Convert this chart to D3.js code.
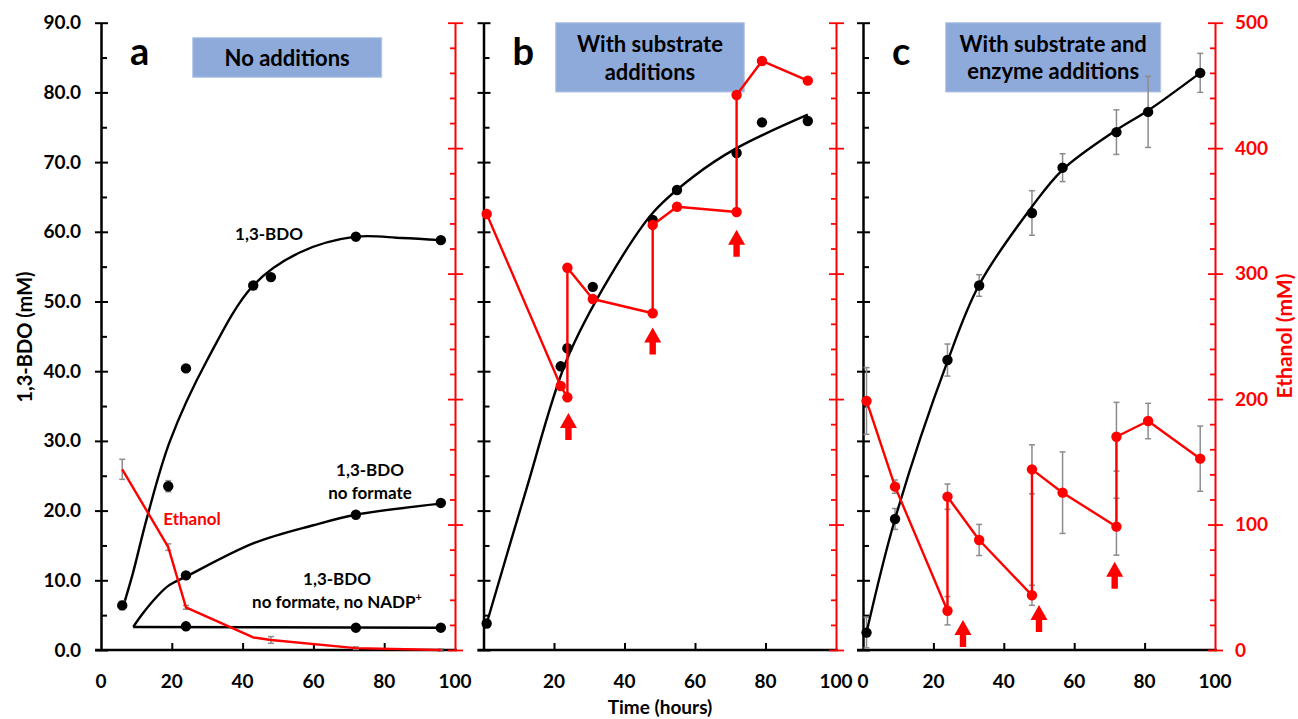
<!DOCTYPE html>
<html>
<head>
    <title>1,3-BDO and ethanol</title>
    <style type="text/css">
        body { margin: 0; background: #fff; }
        svg text { font-family: Lato, "Open Sans", sans-serif; font-weight: bold; }
    </style>
</head>
<body>
<script src="https://d3js.org/d3.v7.min.js" type="text/javascript"></script>
<script type="text/javascript">

    // ---- panel a : no additions ----
    var bdoA_t = [6, 19, 24, 43, 48, 72, 96];
    var bdoA_v = [6.4, 23.5, 40.4, 52.3, 53.5, 59.3, 58.8];
    var bdoA_err = [0.6, 0.8, 0, 0, 0, 0, 0];
    var bdoA_fit_t = [6.3, 9, 13, 19.5, 30, 43, 56, 72, 85, 96];
    var bdoA_fit_v = [6.3, 11, 19, 30, 41.6, 52.3, 57, 59.3, 59.1, 58.8];
    var noFormate_t = [24, 72, 96];
    var noFormate_v = [10.7, 19.4, 21.1];
    var noFormate_fit_t = [9.1, 11.9, 15.7, 19, 24.3, 43, 60, 72, 96];
    var noFormate_fit_v = [3.3, 5.3, 7.6, 9.2, 10.6, 15.3, 17.9, 19.4, 21];
    var noNadp_t = [24, 72, 96];
    var noNadp_v = [3.4, 3.2, 3.2];
    var noNadp_fit_t = [9.1, 96];
    var noNadp_fit_v = [3.3, 3.2];
    var ethA_t = [6, 19, 24, 43, 48, 72, 96];
    var ethA_v = [144, 82, 34, 10, 8, 1.5, 0];
    var ethA_err = [8, 2.6, 1.5, 0, 2.7, 1, 1];

    // ---- panel b : substrate additions ----
    var bdoB_t = [0.9, 21.9, 23.8, 31, 48, 54.9, 71.8, 79, 92];
    var bdoB_v = [3.8, 40.7, 43.3, 52.1, 61.7, 66.0, 71.3, 75.7, 75.9];
    var bdoB_fit_t = [0.9, 12, 23.6, 35.9, 48, 59.5, 71.8, 92];
    var bdoB_fit_v = [3.8, 22.8, 41.6, 53.6, 62.7, 67.9, 72.0, 76.8];
    var ethB_t = [0.9, 21.9, 23.8, 23.8, 31, 48, 48, 54.9, 71.8, 71.8, 79, 92];
    var ethB_v = [347.5, 210.4, 201.4, 304.7, 279.8, 268.4, 338.8, 353.3, 349.1, 442.4, 469.5, 453.8];
    var arrowB_t = [24.1, 48, 71.8];
    var arrowB_v = [189, 257, 335];

    // ---- panel c : substrate + enzyme additions ----
    var bdoC_t = [1, 9.1, 24, 33, 48, 56.7, 72, 81, 95.8];
    var bdoC_v = [2.5, 18.8, 41.6, 52.3, 62.7, 69.2, 74.3, 77.2, 82.8];
    var bdoC_err = [2.2, 1.5, 2.3, 1.55, 3.2, 2.0, 3.2, 5.1, 2.8];
    var bdoC_fit_t = [1, 9.1, 24, 33, 48, 56.7, 72, 81, 95.8];
    var bdoC_fit_v = [2.5, 18.8, 41.4, 52.4, 63.6, 68.9, 74.6, 77.4, 82.8];
    var ethC_t = [1, 9.1, 24, 24, 33, 48, 48, 56.7, 72, 72, 81, 95.8];
    var ethC_v = [198.5, 130.2, 31.3, 122.2, 87.7, 43.6, 144, 125.4, 98.3, 170, 182.5, 152.5];
    var ethC_err = [26.6, 5.3, 11.3, 10.1, 12.4, 8, 19.5, 32.5, 22.7, 27.4, 14.1, 26];
    var arrowC_t = [28.4, 50, 71.5];
    var arrowC_v = [23.9, 35.9, 70.4];

    var bdoTicks = d3.range(0, 91, 10);
    var bdoMinor = d3.range(5, 90, 10);
    var ethTicks = [0, 100, 200, 300, 400, 500];
    var ethMinor = d3.range(20, 500, 20).filter(function (d) { return d % 100 !== 0; });

    var RED = '#ff0000', GREY = '#8c8c8c', BOX = '#8eaadb';

    var svg = d3.select('body').append('svg')
        .attr('width', 1298)
        .attr('height', 719);

    var yTop = 22.7, yBot = 650;
    var yB = d3.scaleLinear().domain([0, 90]).range([yBot, yTop]);
    var yE = d3.scaleLinear().domain([0, 500]).range([yBot, yTop]);

    function zip(t, v) { return t.map(function (d, i) { return [d, v[i]]; }); }

    var panels = [
        { x0: 101, x1: 455, letter: 'a', xlabels: [0, 20, 40, 60, 80, 100],
          box: [192.7, 37.7, 189, 39.6], title: ['No additions'], titleY: [65.5] },
        { x0: 483.5, x1: 836, letter: 'b', xlabels: [20, 40, 60, 80, 100],
          box: [555.7, 22.7, 188.6, 69.3], title: ['With substrate', 'additions'], titleY: [51.5, 79.5] },
        { x0: 863, x1: 1215, letter: 'c', xlabels: [0, 20, 40, 60, 80, 100],
          box: [945.7, 22.7, 215, 69.3], title: ['With substrate and', 'enzyme additions'], titleY: [51.5, 79] }
    ];

    panels.forEach(function (p, pi) {
        var x = d3.scaleLinear().domain([0, 100]).range([p.x0, p.x1]);
        p.x = x;
        var g = svg.append('g');

        // x axis
        var xa = g.append('g').attr('transform', 'translate(0,' + yBot + ')')
            .call(d3.axisBottom(x).tickValues([20, 40, 60, 80]).tickSizeInner(-7).tickSizeOuter(0).tickFormat(''));
        xa.select('.domain').attr('d', 'M' + (p.x0 - 6) + ',0H' + (p.x1 + 2));
        xa.selectAll('line').attr('stroke-width', 2);
        xa.select('.domain').attr('stroke-width', 2.5);
        g.append('g').selectAll('text').data(p.xlabels).enter().append('text')
            .attr('x', function (d) { return x(d); })
            .attr('y', 687.5)
            .attr('text-anchor', 'middle')
            .attr('font-size', 19)
            .text(function (d) { return d; });

        // black left axis
        var la = g.append('g').attr('transform', 'translate(' + p.x0 + ',0)');
        la.append('g').call(d3.axisLeft(yB).tickValues(bdoTicks).tickSizeInner(6).tickSizeOuter(0)
            .tickFormat(pi === 0 ? d3.format('.1f') : ''))
            .call(function (s) {
                s.selectAll('text').attr('font-size', 19).attr('fill', '#000').attr('x', -20);
                s.selectAll('line').attr('stroke-width', 2);
                s.select('.domain').attr('stroke-width', 2.5);
            });
        la.append('g').call(d3.axisLeft(yB).tickValues(bdoTicks).tickSizeInner(-7).tickSizeOuter(0).tickFormat(''))
            .call(function (s) { s.select('.domain').remove(); s.selectAll('line').attr('stroke-width', 2); });
        la.append('g').call(d3.axisLeft(yB).tickValues(bdoMinor).tickSizeInner(-6).tickSizeOuter(0).tickFormat(''))
            .call(function (s) { s.select('.domain').remove(); s.selectAll('line').attr('stroke-width', 2); });

        // red right axis
        var ra = g.append('g').attr('transform', 'translate(' + p.x1 + ',0)');
        ra.append('g').call(d3.axisRight(yE).tickValues(ethTicks).tickSizeInner(8).tickSizeOuter(0).tickPadding(12)
            .tickFormat(pi === 2 ? d3.format('d') : ''))
            .call(function (s) {
                s.selectAll('line').attr('stroke', RED).attr('stroke-width', 1.8);
                s.select('.domain').attr('stroke', RED).attr('stroke-width', 2);
                s.selectAll('text').attr('fill', RED).attr('font-size', 19);
            });
        ra.append('g').call(d3.axisRight(yE).tickValues(ethTicks).tickSizeInner(-7).tickSizeOuter(0).tickFormat(''))
            .call(function (s) { s.select('.domain').remove(); s.selectAll('line').attr('stroke', RED).attr('stroke-width', 1.8); });
        ra.append('g').call(d3.axisRight(yE).tickValues(ethMinor).tickSizeInner(-5).tickSizeOuter(0).tickFormat(''))
            .call(function (s) { s.select('.domain').remove(); s.selectAll('line').attr('stroke', RED).attr('stroke-width', 1.8); });

        // title box
        g.append('rect')
            .attr('x', p.box[0]).attr('y', p.box[1]).attr('width', p.box[2]).attr('height', p.box[3])
            .attr('fill', BOX).attr('stroke', '#b4c7e7').attr('stroke-width', 1);
        p.title.forEach(function (t, i) {
            g.append('text').attr('x', p.box[0] + p.box[2] / 2).attr('y', p.titleY[i])
                .attr('text-anchor', 'middle').attr('font-size', 22).text(t);
        });

        // panel letter
        g.append('text').attr('x', p.x0 + 29).attr('y', 65).attr('font-size', 38).text(p.letter);
    });

    var line = d3.line().x(function (d) { return d.px; }).y(function (d) { return d.py; });
    var smooth = d3.line().x(function (d) { return d.px; }).y(function (d) { return d.py; })
        .curve(d3.curveCatmullRom.alpha(0.5));

    function toPx(p, t, v, yScale) {
        return t.map(function (d, i) { return { px: p.x(d), py: yScale(v[i]) }; });
    }

    function drawCurve(p, t, v, yScale, color, curved) {
        svg.append('path').datum(toPx(p, t, v, yScale))
            .attr('d', curved ? smooth : line)
            .attr('fill', 'none').attr('stroke', color).attr('stroke-width', 2.4)
            .attr('stroke-linejoin', 'round');
    }

    function drawErr(p, t, v, e, yScale) {
        var g = svg.append('g').attr('stroke', GREY).attr('stroke-width', 1.5);
        t.forEach(function (d, i) {
            if (!e[i]) return;
            var cx = p.x(d), y1 = yScale(v[i] - e[i]), y2 = yScale(v[i] + e[i]);
            g.append('line').attr('x1', cx).attr('x2', cx).attr('y1', y1).attr('y2', y2);
            g.append('line').attr('x1', cx - 3).attr('x2', cx + 3).attr('y1', y1).attr('y2', y1);
            g.append('line').attr('x1', cx - 3).attr('x2', cx + 3).attr('y1', y2).attr('y2', y2);
        });
    }

    function drawDots(p, t, v, yScale, color) {
        svg.append('g').selectAll('circle').data(toPx(p, t, v, yScale)).enter().append('circle')
            .attr('cx', function (d) { return d.px; })
            .attr('cy', function (d) { return d.py; })
            .attr('r', 5.2).attr('fill', color);
    }

    function drawArrows(p, t, v) {
        svg.append('g').selectAll('path').data(zip(t, v)).enter().append('path')
            .attr('transform', function (d) { return 'translate(' + p.x(d[0]) + ',' + yE(d[1]) + ')'; })
            .attr('d', 'M0,0L8.5,15H3.2V27H-3.2V15H-8.5Z')
            .attr('fill', RED);
    }

    var pa = panels[0], pb = panels[1], pc = panels[2];

    // panel a
    drawCurve(pa, bdoA_fit_t, bdoA_fit_v, yB, '#000', true);
    drawCurve(pa, noFormate_fit_t, noFormate_fit_v, yB, '#000', true);
    drawCurve(pa, noNadp_fit_t, noNadp_fit_v, yB, '#000', false);
    drawErr(pa, ethA_t, ethA_v, ethA_err, yE);
    drawErr(pa, bdoA_t, bdoA_v, bdoA_err, yB);
    drawCurve(pa, ethA_t, ethA_v, yE, RED, false);
    drawDots(pa, bdoA_t, bdoA_v, yB, '#000');
    drawDots(pa, noFormate_t, noFormate_v, yB, '#000');
    drawDots(pa, noNadp_t, noNadp_v, yB, '#000');

    // panel b
    drawCurve(pb, bdoB_fit_t, bdoB_fit_v, yB, '#000', true);
    drawDots(pb, bdoB_t, bdoB_v, yB, '#000');
    drawCurve(pb, ethB_t, ethB_v, yE, RED, false);
    drawDots(pb, ethB_t, ethB_v, yE, RED);
    drawArrows(pb, arrowB_t, arrowB_v);

    // panel c
    drawErr(pc, bdoC_t, bdoC_v, bdoC_err, yB);
    drawErr(pc, ethC_t, ethC_v, ethC_err, yE);
    drawCurve(pc, bdoC_fit_t, bdoC_fit_v, yB, '#000', true);
    drawDots(pc, bdoC_t, bdoC_v, yB, '#000');
    drawCurve(pc, ethC_t, ethC_v, yE, RED, false);
    drawDots(pc, ethC_t, ethC_v, yE, RED);
    drawArrows(pc, arrowC_t, arrowC_v);

    // labels in panel a
    var lab = svg.append('g').attr('font-size', 17).attr('text-anchor', 'middle');
    lab.append('text').attr('x', 269).attr('y', 240).text('1,3-BDO');
    lab.append('text').attr('x', 370).attr('y', 476).text('1,3-BDO');
    lab.append('text').attr('x', 370).attr('y', 499).text('no formate');
    lab.append('text').attr('x', 337).attr('y', 585).text('1,3-BDO');
    var t2 = lab.append('text').attr('x', 337).attr('y', 608);
    t2.append('tspan').text('no formate, no NADP');
    t2.append('tspan').attr('font-size', 11).attr('dy', -7).text('+');
    lab.append('text').attr('x', 192).attr('y', 525).attr('fill', RED).text('Ethanol');

    // axis titles
    svg.append('text').attr('transform', 'translate(32,337) rotate(-90)')
        .attr('text-anchor', 'middle').attr('font-size', 20).text('1,3-BDO (mM)');
    svg.append('text').attr('transform', 'translate(1292,336) rotate(-90)')
        .attr('text-anchor', 'middle').attr('font-size', 21).attr('fill', RED).text('Ethanol (mM)');
    svg.append('text').attr('x', 660).attr('y', 714)
        .attr('text-anchor', 'middle').attr('font-size', 19).text('Time (hours)');

</script>
</body>
</html>
